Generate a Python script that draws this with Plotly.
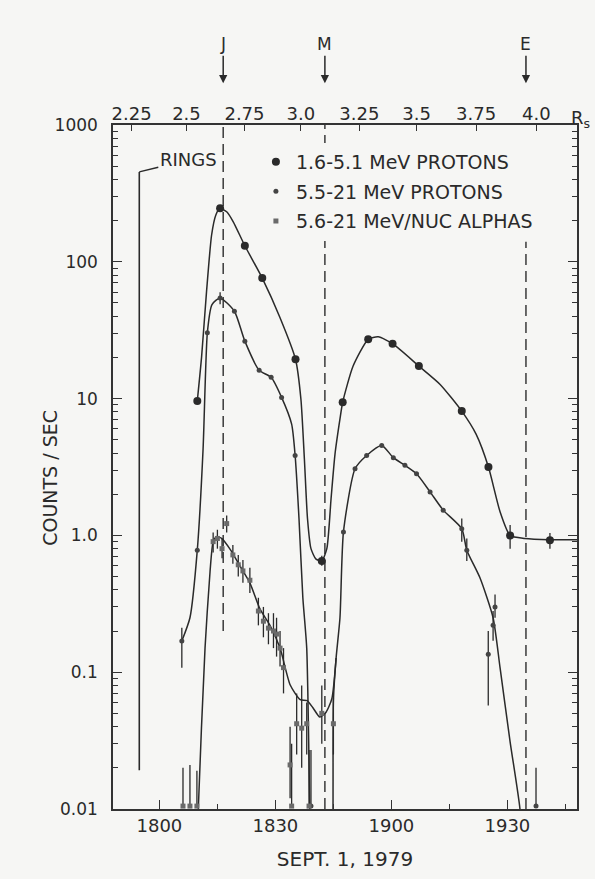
import plotly.graph_objects as go

# ---------------- data (x = minutes after 18:00 UT, 1 Sept 1979) ----------------
time_ticks = [0, 30, 60, 90]
time_labels = ["1800", "1830", "1900", "1930"]
time_minor = [15, 45, 75, 105]

rs_ticks = [-7.2, 7.0, 22.0, 36.6, 51.7, 66.5, 81.9, 97.5]
rs_labels = ["2.25", "2.5", "2.75", "3.0", "3.25", "3.5", "3.75", "4.0"]

count_ticks = [0.01, 0.1, 1, 10, 100, 1000]
count_labels = ["0.01", "0.1", "1.0", "10", "100", "1000"]

moon_names = ["J", "M", "E"]
moon_times = [16.5, 42.8, 94.8]
moon_line_bottom = [0.2, 0.01, 0.01]
moon_line_top = [1000, 1000, 140]

rings_time = -5.2
rings_counts = [454, 0.0192]

# 1.6-5.1 MeV protons: measured points
p1_t = [9.8, 15.7, 22.1, 26.6, 35.2, 42.0, 47.4, 54.0, 60.3, 67.1, 78.2, 85.1, 90.7, 101.0]
p1_c = [9.6, 246, 131, 76, 19.4, 0.65, 9.4, 27.1, 25.2, 17.3, 8.1, 3.16, 1.0, 0.92]
p1_lo = [9.6, 246, 131, 76, 19.4, 0.60, 9.4, 27.1, 25.2, 17.3, 8.1, 3.16, 0.80, 0.80]
p1_hi = [9.6, 246, 131, 76, 19.4, 0.71, 9.4, 27.1, 25.2, 17.3, 8.1, 3.16, 1.19, 1.04]
# 1.6-5.1 MeV protons: drawn curve
c1_t = [9.8, 10.9, 12.2, 13.5, 14.6, 15.7, 17.4, 19.1, 22.1, 26.6, 31.2, 35.2, 36.6, 37.5,
        38.3, 39.2, 40.5, 42.0, 43.3, 44.4, 45.4, 46.7, 47.4, 50.1, 54.0, 56.6, 60.3, 67.1,
        72.6, 78.2, 81.9, 85.1, 88.1, 90.7, 94.5, 101.0, 108.0]
c1_c = [9.6, 20, 61, 157, 220, 246, 232, 196, 131, 76, 39, 19.4, 9.9, 3.6,
        1.33, 0.80, 0.67, 0.65, 0.80, 1.86, 3.9, 7.1, 9.4, 17.3, 27.1, 28.3, 25.2, 17.3,
        12.7, 8.1, 5.5, 3.16, 1.49, 1.0, 0.95, 0.93, 0.93]

# 5.5-21 MeV protons: measured points
p2_t = [5.8, 9.8, 12.4, 15.7, 19.4, 22.1, 25.8, 28.9, 31.6, 35.1, 39.2, 47.6, 50.6, 53.6,
        57.5, 60.5, 63.5, 66.5, 70.0, 73.4, 78.2, 79.5, 85.05, 86.3, 86.8, 97.4]
p2_c = [0.169, 0.78, 30.3, 54.4, 43.5, 26.3, 16.1, 14.3, 10.2, 3.84, 0.0105, 1.06, 3.07, 3.84,
        4.54, 3.7, 3.25, 2.82, 2.08, 1.53, 1.12, 0.78, 0.135, 0.22, 0.30, 0.0105]
p2_lo = [0.108, 0.78, 30.3, 49, 43.5, 26.3, 16.1, 14.3, 10.2, 3.84, 0.0105, 1.06, 3.07, 3.84,
         4.54, 3.7, 3.25, 2.82, 2.08, 1.53, 0.90, 0.65, 0.057, 0.17, 0.25, 0.0105]
p2_hi = [0.211, 0.78, 30.3, 60, 43.5, 26.3, 16.1, 14.3, 10.2, 3.84, 0.027, 1.06, 3.07, 3.84,
         4.54, 3.7, 3.25, 2.82, 2.08, 1.53, 1.33, 0.95, 0.20, 0.28, 0.37, 0.02]
# 5.5-21 MeV protons: drawn curve (two branches, dropping below the axis near M)
c2a_t = [5.8, 7.9, 9.8, 11.3, 12.4, 13.6, 15.7, 19.4, 22.1, 25.8, 28.9, 31.6, 34.2, 35.1,
         36.1, 37.1, 38.1, 38.9, 39.3]
c2a_c = [0.169, 0.25, 0.78, 4.3, 30.3, 48.7, 54.4, 43.5, 26.3, 16.1, 14.3, 10.2, 6.5, 3.84,
         1.33, 0.35, 0.15, 0.01, 0.004]
c2b_t = [44.7, 44.9, 45.0, 45.7, 46.7, 47.6, 50.6, 53.6, 57.5, 60.5, 63.5, 66.5, 70.0, 73.4,
         78.2, 79.5, 82.9, 86.3, 88.1, 90.7, 93.25, 94.0]
c2b_c = [0.004, 0.01, 0.062, 0.127, 0.25, 1.06, 3.07, 3.84, 4.54, 3.7, 3.25, 2.82, 2.08, 1.53,
         1.12, 0.78, 0.49, 0.25, 0.108, 0.031, 0.01, 0.004]

# 5.6-21 MeV/nuc alphas: measured points
pa_t = [6.1, 7.9, 9.7, 13.9, 15.0, 16.2, 17.4, 19.0, 20.4, 21.6, 23.4, 25.6, 26.9, 28.2,
        29.5, 30.3, 31.2, 32.1, 33.8, 34.2, 35.5, 36.8, 38.1, 38.7, 42.0, 45.0]
pa_c = [0.0105, 0.0105, 0.0105, 0.90, 0.95, 0.80, 1.22, 0.72, 0.61, 0.55, 0.47, 0.28, 0.236, 0.21,
        0.20, 0.19, 0.15, 0.108, 0.021, 0.0105, 0.042, 0.039, 0.042, 0.0105, 0.05, 0.042]
pa_lo = [0.0105, 0.0105, 0.0105, 0.75, 0.80, 0.68, 1.05, 0.62, 0.50, 0.45, 0.38, 0.22, 0.18, 0.16,
         0.15, 0.13, 0.11, 0.07, 0.012, 0.0105, 0.025, 0.020, 0.025, 0.0105, 0.03, 0.025]
pa_hi = [0.020, 0.021, 0.019, 1.05, 1.10, 0.95, 1.40, 0.85, 0.72, 0.66, 0.58, 0.35, 0.30, 0.27,
         0.27, 0.25, 0.20, 0.15, 0.040, 0.030, 0.070, 0.080, 0.060, 0.027, 0.08, 0.065]
# alphas: drawn curve
ca_t = [9.85, 10.06, 11.8, 13.1, 13.9, 14.8, 16.1, 18.3, 20.8, 23.4, 26.0, 28.6, 31.2, 33.8,
        36.4, 38.2, 39.7, 41.5, 43.1, 44.6, 45.7]
ca_c = [0.004, 0.01, 0.15, 0.545, 0.9, 0.98, 0.95, 0.79, 0.6, 0.45, 0.29, 0.22, 0.15, 0.081,
        0.063, 0.062, 0.055, 0.047, 0.051, 0.064, 0.127]

series_names = ["1.6-5.1 MeV PROTONS", "5.5-21 MeV PROTONS", "5.6-21 MeV/NUC ALPHAS"]

# ---------------- styling ----------------
INK = "#2a2a2a"
BG = "#f6f6f4"
FONT = "DejaVu Sans, Liberation Sans, sans-serif"


def errs(v, lo, hi):
    return dict(type="data", symmetric=False,
                array=[h - c for c, h in zip(v, hi)],
                arrayminus=[c - l for c, l in zip(v, lo)],
                thickness=1.3, width=0, color=INK)


fig = go.Figure()

# dashed satellite lines
for name, t, yb, yt in zip(moon_names, moon_times, moon_line_bottom, moon_line_top):
    fig.add_trace(go.Scatter(x=[t, t], y=[yb, yt], mode="lines", showlegend=False,
                             hoverinfo="skip",
                             line=dict(color="#3a3a3a", width=1.5, dash="11px,6px")))

# rings crossing line
fig.add_trace(go.Scatter(x=[rings_time, rings_time], y=rings_counts, mode="lines",
                         showlegend=False, hoverinfo="skip",
                         line=dict(color=INK, width=1.6)))

# smooth curves
for ct, cc in [(c1_t, c1_c), (c2a_t, c2a_c), (c2b_t, c2b_c), (ca_t, ca_c)]:
    fig.add_trace(go.Scatter(x=ct, y=cc, mode="lines", showlegend=False, hoverinfo="skip",
                             line=dict(color=INK, width=1.5, shape="spline", smoothing=0.6)))

# measured points
fig.add_trace(go.Scatter(x=p1_t, y=p1_c, mode="markers", name=series_names[0],
                         legendgroup="a", legendrank=1,
                         marker=dict(symbol="circle", size=8, color=INK),
                         error_y=errs(p1_c, p1_lo, p1_hi)))
fig.add_trace(go.Scatter(x=p2_t, y=p2_c, mode="markers", name=series_names[1],
                         legendgroup="b", legendrank=2,
                         marker=dict(symbol="circle", size=5, color="#444444"),
                         error_y=errs(p2_c, p2_lo, p2_hi)))
fig.add_trace(go.Scatter(x=pa_t, y=pa_c, mode="markers", name=series_names[2],
                         legendgroup="c", legendrank=3,
                         marker=dict(symbol="square", size=5, color="#6a6a6a"),
                         error_y=errs(pa_c, pa_lo, pa_hi)))

# invisible carrier for the top (R_s) axis
fig.add_trace(go.Scatter(x=rs_ticks, y=[1] * len(rs_ticks), xaxis="x2", mode="markers",
                         marker=dict(opacity=0), showlegend=False, hoverinfo="skip"))

# satellite markers above the top axis
for name, t in zip(moon_names, moon_times):
    fig.add_annotation(x=t, xref="x", y=1.061, yref="paper", text=name,
                       showarrow=True, ax=0, ay=-39, arrowhead=2, arrowsize=1.1,
                       arrowwidth=1.5, arrowcolor=INK,
                       font=dict(family=FONT, size=17, color=INK))

fig.add_annotation(x=0.982, xref="paper", xanchor="left", y=1.029, yref="paper",
                   text="R<sub>s</sub>", showarrow=False,
                   font=dict(family=FONT, size=18, color=INK))

fig.add_annotation(x=rings_time, xref="x", y=2.657, yref="y", text="RINGS",
                   showarrow=True, ax=49, ay=-12, arrowhead=0, arrowwidth=1.4,
                   arrowcolor=INK, font=dict(family=FONT, size=18, color=INK))

# y-axis title placed as rotated text
fig.add_annotation(x=-0.136, xref="paper", xanchor="center", y=0.484, yref="paper",
                   yanchor="middle", text="COUNTS / SEC", textangle=-90, showarrow=False,
                   font=dict(family=FONT, size=19, color=INK))

axis_common = dict(showgrid=False, zeroline=False, linecolor="#333333", linewidth=1.5,
                   tickcolor="#333333")

fig.update_layout(
    width=595, height=879,
    margin=dict(l=113, r=18, t=125, b=67),
    paper_bgcolor=BG, plot_bgcolor=BG,
    font=dict(family=FONT, color=INK),
    xaxis=dict(range=[-12, 108], tickmode="array", tickvals=time_ticks, ticktext=time_labels,
               ticks="inside", ticklen=9, showline=True, mirror=True,
               tickfont=dict(family=FONT, size=18, color=INK),
               minor=dict(tickvals=time_minor, ticks="inside", ticklen=5, tickcolor="#333333"),
               title=dict(text="SEPT. 1, 1979", font=dict(family=FONT, size=20, color=INK),
                          standoff=17),
               **axis_common),
    xaxis2=dict(range=[-12, 108], overlaying="x", side="top", tickmode="array",
                tickvals=rs_ticks, ticktext=rs_labels, ticks="inside", ticklen=6,
                showline=False, tickfont=dict(family=FONT, size=18, color=INK),
                **axis_common),
    yaxis=dict(type="log", range=[-2, 3], tickmode="array", tickvals=count_ticks,
               ticktext=count_labels, ticks="inside", ticklen=9, showline=True,
               mirror="ticks", ticklabelstandoff=10,
               tickfont=dict(family=FONT, size=17, color=INK),
               minor=dict(ticks="inside", ticklen=5, tickcolor="#333333", dtick="D1"),
               **axis_common),
    legend=dict(x=0.308, y=0.974, xanchor="left", yanchor="top", bgcolor=BG,
                font=dict(family=FONT, size=19, color=INK), tracegroupgap=2,
                itemwidth=30, traceorder="grouped"),
    showlegend=True,
)

fig.write_html("out.html", config={"displayModeBar": False},
               post_script="document.body.style.margin='0';"
                           "document.body.style.background='%s';" % BG)
